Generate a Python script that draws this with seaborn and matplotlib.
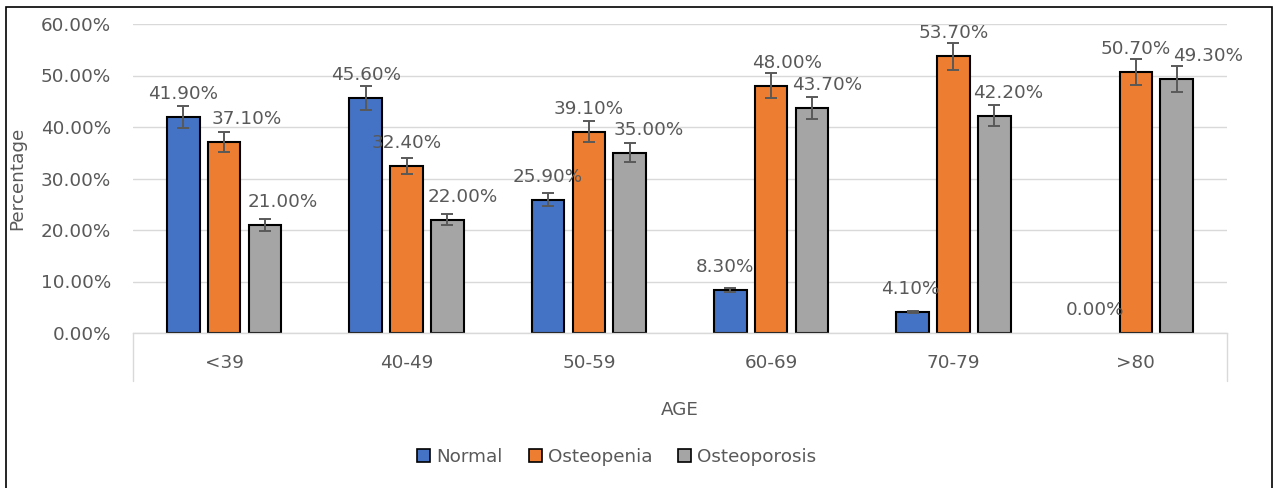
import numpy as np
import pandas as pd
import seaborn as sns
import matplotlib.pyplot as plt
from matplotlib.lines import Line2D
from matplotlib.patches import Patch

# data
ages = ["<39", "40-49", "50-59", "60-69", "70-79", ">80"]
groups = ["Normal", "Osteopenia", "Osteoporosis"]
normal = [41.9, 45.6, 25.9, 8.3, 4.1, 0.0]
osteopenia = [37.1, 32.4, 39.1, 48.0, 53.7, 50.7]
osteoporosis = [21.0, 22.0, 35.0, 43.7, 42.2, 49.3]
err_normal = [2.1, 2.3, 1.3, 0.4, 0.2, 0.0]
err_osteopenia = [1.9, 1.6, 2.0, 2.4, 2.7, 2.5]
err_osteoporosis = [1.1, 1.1, 1.8, 2.2, 2.1, 2.5]

# label nudges (pixels, to the right) as placed in the original
nudge = {
    "Normal": [0, 0, 0, -6, -3, 0],
    "Osteopenia": [23, 0, 0, 16, 0, 0],
    "Osteoporosis": [18, 16, 19, 15, 14, 32],
}

colors = ["#4472C4", "#ED7D31", "#A5A5A5"]
txt = "#595959"
fs = 13.2

df = pd.DataFrame({
    "age": ages * 3,
    "group": np.repeat(groups, len(ages)),
    "pct": normal + osteopenia + osteoporosis,
    "err": err_normal + err_osteopenia + err_osteoporosis,
})

sns.set_style("white")
plt.rcParams['font.family'] = ['DejaVu Sans']
plt.rcParams['font.size'] = fs

fig = plt.figure(figsize=(12.74, 4.88), dpi=100)
ax = fig.add_axes([133 / 1274, 1 - 333 / 488, (1227 - 133) / 1274, (333 - 24) / 488])

sns.barplot(data=df, x="age", y="pct", hue="group", order=ages, hue_order=groups,
            palette=colors, width=0.67, gap=0.2, errorbar=None,
            edgecolor="black", linewidth=1.5, saturation=1, legend=False, ax=ax)

px2pt = 72 / 100
for cont, g in zip(ax.containers, groups):
    sub = df[df.group == g]
    for bar, v, e, dx in zip(cont, sub.pct, sub.err, nudge[g]):
        xc = bar.get_x() + bar.get_width() / 2
        if v == 0:
            bar.set_linewidth(0)
        else:
            ax.errorbar(xc, v, yerr=e, color=txt, lw=1.4, capsize=4.5, capthick=1.4, zorder=5)
        ax.annotate(f"{v:.2f}%", (xc, v), xytext=(dx * px2pt, 23 * px2pt),
                    textcoords="offset points", ha="center", va="center",
                    color=txt, fontsize=fs, zorder=6)

ax.set_ylim(0, 60)
ax.set_yticks(np.arange(0, 61, 10))
ax.set_yticklabels([f"{t:.2f}%" for t in np.arange(0, 61, 10)])
ax.set_xlim(-0.5, len(ages) - 0.5)
ax.yaxis.grid(True, color="#d9d9d9", lw=1)
ax.set_axisbelow(True)
for s in ["left", "right", "top"]:
    ax.spines[s].set_visible(False)
ax.spines["bottom"].set_color("#d9d9d9")
ax.spines["bottom"].set_linewidth(1)
ax.tick_params(axis="y", length=0, pad=16, colors=txt, labelsize=fs)
ax.tick_params(axis="x", length=0, pad=15, colors=txt, labelsize=fs)
for xe in [0, 1]:
    ax.add_line(Line2D([xe, xe], [0, -0.155], transform=ax.transAxes,
                       color="#d9d9d9", lw=1, clip_on=False))

ax.set_xlabel("AGE", color=txt, fontsize=fs, labelpad=21)
ax.set_ylabel("Percentage", color=txt, fontsize=fs, labelpad=10)

handles = [Patch(facecolor=c, edgecolor="black", lw=1.2, label=g) for c, g in zip(colors, groups)]
fig.legend(handles=handles, loc="center", bbox_to_anchor=(617 / 1274, 1 - 457 / 488),
           ncol=3, frameon=False, handlelength=0.7, handleheight=0.7,
           handletextpad=0.35, columnspacing=1.4, labelcolor=txt, fontsize=fs)

# outer chart border
fig.add_artist(plt.Rectangle((6 / 1274, -0.01), 1266 / 1274, 1 - 7 / 488 + 0.01,
                             transform=fig.transFigure, fill=False, ec="black", lw=1.2))

fig.savefig("out.png", dpi=100)
